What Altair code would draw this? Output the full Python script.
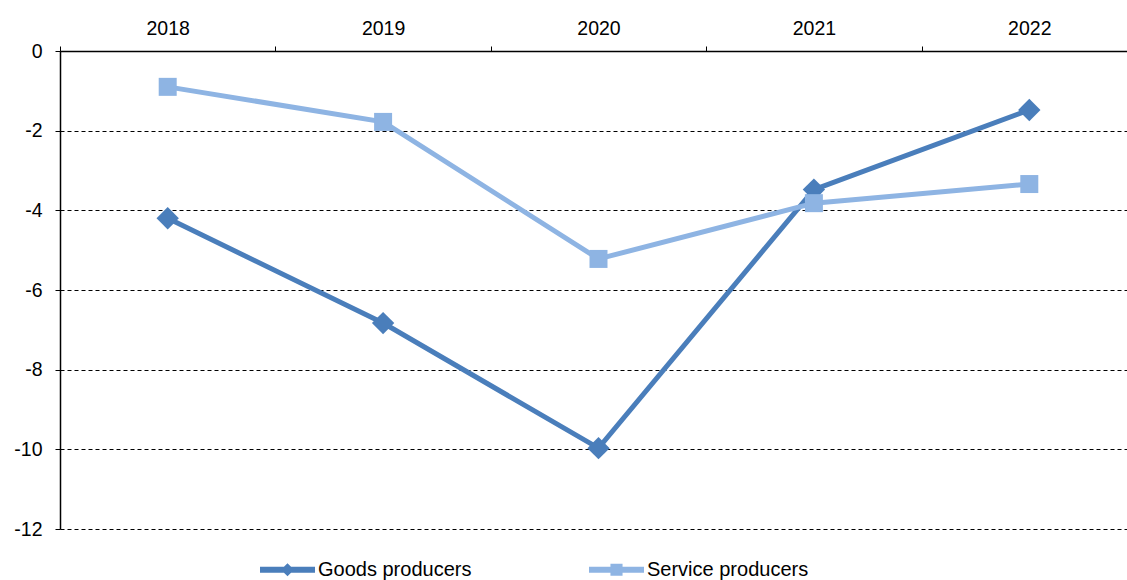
import altair as alt
import pandas as pd

years = ["2018", "2019", "2020", "2021", "2022"]
goods = [-4.2, -6.83, -9.97, -3.48, -1.48]
service = [-0.9, -1.78, -5.22, -3.82, -3.34]
series_names = ["Goods producers", "Service producers"]
colors = ["#4A7EBB", "#8EB4E3"]
y_ticks = [0, -2, -4, -6, -8, -10, -12]

rows = []
for yr, g, s in zip(years, goods, service):
    rows.append({"year": yr, "value": g, "series": series_names[0]})
    rows.append({"year": yr, "value": s, "series": series_names[1]})
df = pd.DataFrame(rows)

FONT = "Liberation Sans"
FS = 19.5

x_enc = alt.X(
    "year:N",
    sort=years,
    scale=alt.Scale(range=[0, 1077], paddingInner=0, paddingOuter=0),
    axis=alt.Axis(
        orient="top", title=None, labelAngle=0, tickBand="extent",
        domainColor="black", domainWidth=1.5, tickColor="black", tickSize=5,
        labelFontSize=FS, labelFont=FONT, labelColor="black", labelPadding=8,
        grid=False,
    ),
)
y_enc = alt.Y(
    "value:Q",
    scale=alt.Scale(domain=[-12, 0], nice=False, zero=False),
    axis=alt.Axis(
        values=y_ticks, labelExpr="'' + datum.value", title=None,
        domainColor="black", domainWidth=1.5, tickColor="black", tickSize=5,
        labelFontSize=FS, labelFont=FONT, labelColor="black", labelPadding=13,
        grid=True, gridColor="black", gridDash=[4, 3], gridWidth=1,
    ),
)
color_enc = alt.Color(
    "series:N",
    scale=alt.Scale(domain=series_names, range=colors),
    legend=alt.Legend(
        title=None, orient="none", direction="horizontal",
        legendX=200, legendY=491, labelFontSize=20, labelFont=FONT,
        labelColor="black", labelOffset=3, columnPadding=117, labelLimit=400,
        symbolSize=3025, symbolStrokeWidth=0, symbolOpacity=1,
    ),
)

base = alt.Chart(df)

lines = base.mark_line(strokeWidth=5).encode(x=x_enc, y=y_enc, color=color_enc, detail="series:N")

pts_goods = base.transform_filter(alt.datum.series == series_names[0]).mark_point(
    shape="diamond", filled=True, size=500, opacity=1
).encode(x=x_enc, y=y_enc, color=color_enc)

pts_service = base.transform_filter(alt.datum.series == series_names[1]).mark_point(
    shape="square", filled=True, size=324, opacity=1
).encode(x=x_enc, y=y_enc, color=color_enc)

goods_path = "M-1,-0.11L1,-0.11L1,0.11L-1,0.11Z M0,-0.24L0.24,0L0,0.24L-0.24,0Z"
service_path = "M-1,-0.11L1,-0.11L1,0.11L-1,0.11Z M-0.22,-0.22L0.22,-0.22L0.22,0.22L-0.22,0.22Z"

legend_layer = base.transform_filter("false").mark_point(filled=True, opacity=1).encode(
    x=x_enc, y=y_enc, color=color_enc,
    shape=alt.Shape("series:N", scale=alt.Scale(domain=series_names, range=[goods_path, service_path])),
)

chart = alt.layer(lines, pts_goods, pts_service, legend_layer).properties(
    width=1067, height=478,
    autosize=alt.AutoSizeParams(type="none"),
    padding={"left": 60, "top": 51, "right": 0, "bottom": 51},
    background="white",
).configure_view(stroke=None)

chart.save("out.html", embed_options={"renderer": "svg", "actions": False})
